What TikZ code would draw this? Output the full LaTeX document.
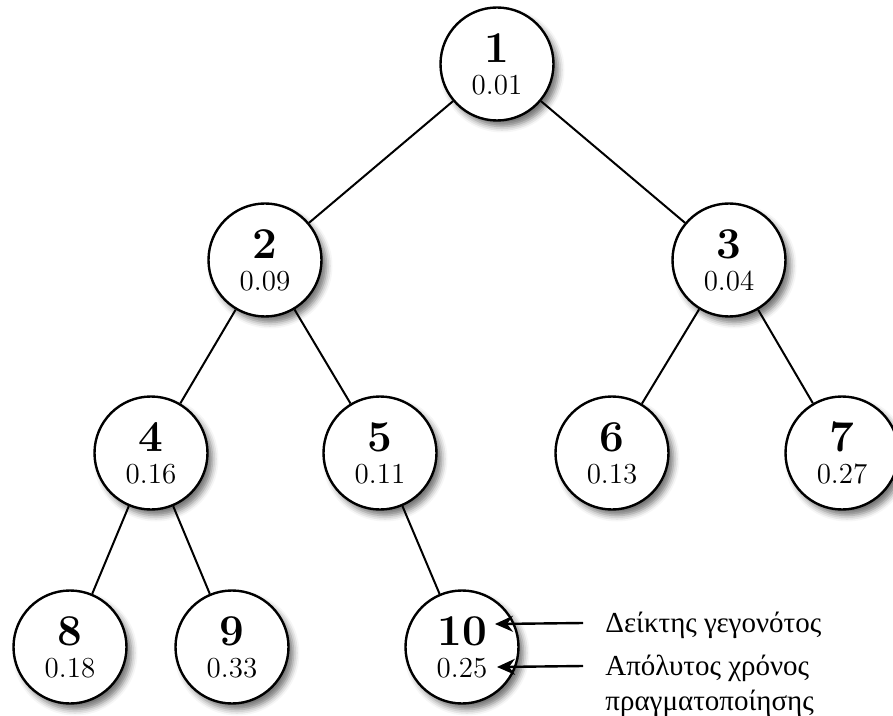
\documentclass[tikz,border=0pt]{standalone}
\usepackage{fontspec}
\newfontfamily\greekfont{Liberation Serif}
\usepackage{tikz}
\usetikzlibrary{positioning,arrows.meta,shadows.blur}

\newcommand{\evnum}[2]{{\fontsize{22}{22}\selectfont\bfseries #1}\\#2}

\begin{document}
\begin{tikzpicture}[x=0.5pt,y=-0.5pt,
event/.style={circle,draw,line width=1.2pt,fill=white,minimum size=56.5pt,
    inner sep=0pt,align=center,font=\fontsize{14.5}{16}\selectfont,
    blur shadow={shadow xshift=2.5pt,shadow yshift=-3pt,shadow blur radius=3pt,shadow opacity=55}},
link/.style={line width=1pt},
pointer/.style={line width=1.2pt,-{Stealth[length=9pt,width=8pt,inset=3pt]}},
note/.style={anchor=base west,inner xsep=11pt,font=\greekfont\fontsize{14.5}{16}\selectfont}]
\useasboundingbox (0,0) rectangle (893,716);
% events
\node[event] (n1) at (497,64) {\evnum{1}{0.01}};
\node[event] (n2) at (265,260) {\evnum{2}{0.09}};
\node[event] (n3) at (729,260) {\evnum{3}{0.04}};
\node[event] (n4) at (151,453) {\evnum{4}{0.16}};
\node[event] (n5) at (380,453) {\evnum{5}{0.11}};
\node[event] (n6) at (612,453) {\evnum{6}{0.13}};
\node[event] (n7) at (842,453) {\evnum{7}{0.27}};
\node[event] (n8) at (70,647) {\evnum{8}{0.18}};
\node[event] (n9) at (232,647) {\evnum{9}{0.33}};
\node[event] (n10) at (462,647) {\evnum{10}{0.25}};
% tree edges
\foreach \a/\b in {1/2,1/3,2/4,2/5,3/6,3/7,4/8,4/9,5/10}
    \draw[link] (n\a) -- (n\b);
% legend
\node[note] (idx) at (583,632) {Δείκτης γεγονότος};
\node[note] (abs) at (583,675) {Απόλυτος χρόνος};
\node[note] (absb) at ([yshift=-17.5pt]abs.base west) {πραγματοποίησης};
\coordinate (idxtip) at (495,624);
\coordinate (abstip) at (497,667);
\draw[pointer] ([yshift=4.5pt]idx.base west) -- (idxtip);
\draw[pointer] ([yshift=4.5pt]abs.base west) -- (abstip);
\end{tikzpicture}
\end{document}
